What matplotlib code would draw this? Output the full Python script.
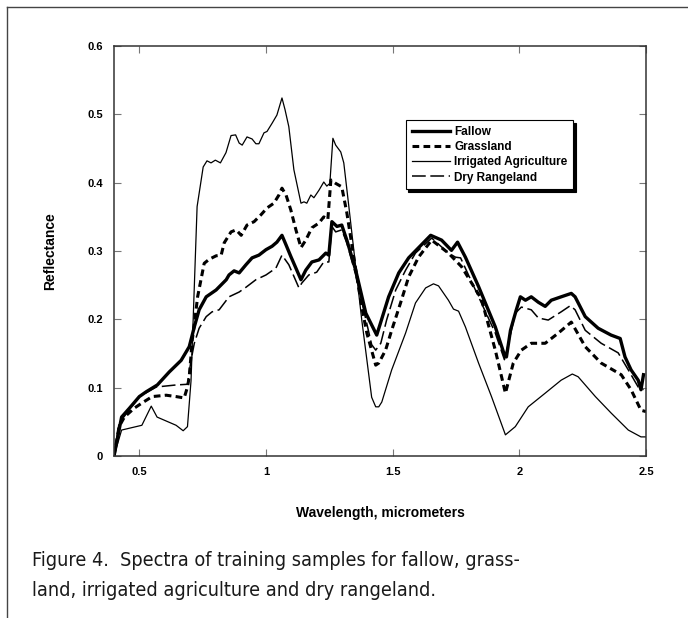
import matplotlib
matplotlib.use('Agg')
import matplotlib.pyplot as plt
from matplotlib.lines import Line2D

plt.rcParams['font.family'] = ['Liberation Sans', 'DejaVu Sans']

# Spectra (wavelength in micrometers, reflectance)
irr_x = [0.40, 0.43, 0.51, 0.547, 0.57, 0.645, 0.673, 0.69, 0.704, 0.728, 0.752, 0.767,
         0.783, 0.80, 0.82, 0.842, 0.862, 0.88, 0.894, 0.906, 0.925, 0.945, 0.96, 0.972,
         0.992, 1.004, 1.024, 1.043, 1.063, 1.075, 1.09, 1.11, 1.138, 1.15, 1.161, 1.177,
         1.189, 1.209, 1.228, 1.24, 1.252, 1.264, 1.275, 1.295, 1.307, 1.327, 1.354, 1.378,
         1.417, 1.433, 1.445, 1.457, 1.496, 1.551, 1.59, 1.63, 1.661, 1.681, 1.72, 1.74,
         1.76, 1.787, 1.839, 1.89, 1.945, 1.984, 2.035, 2.102, 2.165, 2.209, 2.232, 2.30,
         2.362, 2.43, 2.48, 2.50]
irr_y = [0.0, 0.038, 0.045, 0.073, 0.057, 0.045, 0.037, 0.043, 0.11, 0.365, 0.423, 0.432,
         0.429, 0.433, 0.429, 0.444, 0.469, 0.470, 0.458, 0.455, 0.467, 0.464, 0.457, 0.457,
         0.473, 0.475, 0.487, 0.499, 0.524, 0.507, 0.482, 0.419, 0.370, 0.372, 0.370, 0.382,
         0.378, 0.389, 0.401, 0.395, 0.399, 0.465, 0.455, 0.445, 0.429, 0.365, 0.277, 0.199,
         0.086, 0.072, 0.072, 0.079, 0.126, 0.180, 0.224, 0.246, 0.252, 0.249, 0.228, 0.215,
         0.212, 0.189, 0.136, 0.087, 0.031, 0.043, 0.072, 0.092, 0.111, 0.120, 0.116, 0.087,
         0.063, 0.038, 0.028, 0.028]

fal_x = [0.40, 0.43, 0.461, 0.50, 0.527, 0.571, 0.618, 0.665, 0.697, 0.717, 0.736, 0.764,
         0.803, 0.843, 0.854, 0.874, 0.894, 0.921, 0.945, 0.972, 1.0, 1.024, 1.043, 1.063,
         1.079, 1.098, 1.138, 1.157, 1.181, 1.209, 1.236, 1.248, 1.26, 1.28, 1.299, 1.319,
         1.354, 1.394, 1.437, 1.453, 1.484, 1.524, 1.563, 1.65, 1.693, 1.732, 1.756, 1.787,
         1.839, 1.905, 1.941, 1.949, 1.965, 1.988, 2.004, 2.024, 2.047, 2.075, 2.102, 2.126,
         2.165, 2.205, 2.22, 2.26, 2.311, 2.362, 2.398, 2.417, 2.441, 2.469, 2.48, 2.49]
fal_y = [0.0, 0.057, 0.070, 0.087, 0.094, 0.104, 0.123, 0.140, 0.160, 0.189, 0.214, 0.233,
         0.243, 0.258, 0.265, 0.271, 0.268, 0.280, 0.290, 0.294, 0.302, 0.307, 0.313, 0.323,
         0.309, 0.292, 0.258, 0.272, 0.284, 0.287, 0.297, 0.294, 0.343, 0.336, 0.338, 0.316,
         0.272, 0.209, 0.177, 0.196, 0.233, 0.268, 0.290, 0.323, 0.316, 0.301, 0.313, 0.291,
         0.248, 0.189, 0.148, 0.145, 0.184, 0.214, 0.233, 0.228, 0.233, 0.225, 0.219, 0.228,
         0.233, 0.238, 0.233, 0.204, 0.187, 0.177, 0.172, 0.145, 0.126, 0.111, 0.097, 0.119]

gra_x = [0.40, 0.42, 0.441, 0.48, 0.512, 0.551, 0.606, 0.645, 0.677, 0.69, 0.697, 0.709,
         0.724, 0.73, 0.756, 0.776, 0.803, 0.823, 0.835, 0.862, 0.882, 0.902, 0.925, 0.953,
         0.98, 1.004, 1.031, 1.051, 1.063, 1.079, 1.098, 1.118, 1.138, 1.157, 1.181, 1.209,
         1.228, 1.244, 1.256, 1.275, 1.299, 1.319, 1.346, 1.378, 1.398, 1.433, 1.445, 1.472,
         1.496, 1.531, 1.563, 1.602, 1.654, 1.72, 1.772, 1.85, 1.905, 1.945, 1.976, 2.008,
         2.047, 2.102, 2.154, 2.205, 2.26, 2.323, 2.402, 2.441, 2.48, 2.50]
gra_y = [0.0, 0.043, 0.057, 0.070, 0.078, 0.087, 0.089, 0.087, 0.085, 0.101, 0.116, 0.170,
         0.214, 0.233, 0.282, 0.288, 0.293, 0.294, 0.312, 0.328, 0.331, 0.323, 0.338, 0.343,
         0.353, 0.363, 0.370, 0.382, 0.392, 0.382, 0.360, 0.331, 0.305, 0.316, 0.334, 0.341,
         0.350, 0.346, 0.404, 0.399, 0.394, 0.356, 0.292, 0.218, 0.180, 0.133, 0.136, 0.155,
         0.184, 0.224, 0.262, 0.291, 0.316, 0.297, 0.277, 0.230, 0.155, 0.092, 0.136, 0.155,
         0.165, 0.165, 0.180, 0.196, 0.160, 0.136, 0.119, 0.097, 0.067, 0.065]

dry_x = [0.40, 0.42, 0.50, 0.567, 0.645, 0.69, 0.704, 0.717, 0.736, 0.764, 0.787, 0.815,
         0.854, 0.894, 0.921, 0.96, 1.0, 1.039, 1.063, 1.09, 1.13, 1.141, 1.169, 1.20,
         1.228, 1.248, 1.26, 1.275, 1.299, 1.319, 1.354, 1.394, 1.417, 1.433, 1.453, 1.476,
         1.512, 1.551, 1.59, 1.654, 1.72, 1.748, 1.768, 1.839, 1.905, 1.941, 1.957, 1.984,
         2.008, 2.047, 2.075, 2.114, 2.165, 2.201, 2.22, 2.26, 2.323, 2.39, 2.43, 2.469, 2.49]
dry_y = [0.0, 0.048, 0.087, 0.101, 0.104, 0.105, 0.140, 0.165, 0.187, 0.204, 0.211, 0.214,
         0.233, 0.240, 0.247, 0.258, 0.265, 0.275, 0.294, 0.280, 0.246, 0.253, 0.265, 0.269,
         0.284, 0.284, 0.336, 0.328, 0.331, 0.312, 0.265, 0.200, 0.163, 0.155, 0.165, 0.199,
         0.243, 0.272, 0.297, 0.319, 0.297, 0.291, 0.290, 0.233, 0.180, 0.141, 0.165, 0.209,
         0.218, 0.214, 0.202, 0.199, 0.211, 0.220, 0.214, 0.184, 0.165, 0.151, 0.126, 0.101, 0.097]

caption = ['Figure 4.  Spectra of training samples for fallow, grass-',
           'land, irrigated agriculture and dry rangeland.']

fig = plt.figure(figsize=(6.88, 6.18), dpi=100)
ax = fig.add_axes([0.1657, 0.2621, 0.7733, 0.6634])

ax.plot(fal_x, fal_y, color='black', lw=2.4, solid_joinstyle='round', label='Fallow')
ax.plot(gra_x, gra_y, color='black', lw=2.2, ls=(0, (2.2, 1.4)), label='Grassland')
ax.plot(irr_x, irr_y, color='black', lw=0.9, label='Irrigated Agriculture')
ax.plot(dry_x, dry_y, color='black', lw=1.1, ls=(0, (9, 3)), label='Dry Rangeland')

ax.set_xlim(0.4, 2.5)
ax.set_ylim(0, 0.6)
ax.set_xticks([0.5, 1, 1.5, 2, 2.5])
ax.set_xticklabels(['0.5', '1', '1.5', '2', '2.5'])
ax.set_yticks([0, 0.1, 0.2, 0.3, 0.4, 0.5, 0.6])
ax.set_yticklabels(['0', '0.1', '0.2', '0.3', '0.4', '0.5', '0.6'])
ax.tick_params(direction='in', top=True, right=True, length=5, width=0.8,
               color='#777777', labelsize=8, pad=8)
for lab in ax.get_xticklabels() + ax.get_yticklabels():
    lab.set_fontweight('bold')
for sp in ax.spines.values():
    sp.set_linewidth(1.1)
    sp.set_color('#333333')

ax.set_xlabel('Wavelength, micrometers', fontsize=10, fontweight='bold', labelpad=21)
ax.set_ylabel('Reflectance', fontsize=10, fontweight='bold', labelpad=22)

leg = ax.legend(loc='upper left', bbox_to_anchor=(0.537, 0.833), frameon=True,
                fancybox=False, edgecolor='black', fontsize=8.5, handlelength=3.3,
                handletextpad=0.3, borderpad=0.5, labelspacing=0.26,
                shadow={'color': 'black', 'alpha': 1.0, 'ox': 2, 'oy': -2})
leg.get_frame().set_linewidth(0.8)
for t in leg.get_texts():
    t.set_fontweight('bold')

# page rules and caption
fig.add_artist(Line2D([7 / 688, 1], [1 - 7 / 618, 1 - 7 / 618], color='#444444', lw=1))
fig.add_artist(Line2D([7 / 688, 7 / 688], [0, 1 - 7 / 618], color='#444444', lw=1))
for i, line in enumerate(caption):
    fig.text(32 / 688, 1 - (566 + 30 * i) / 618, line,
             fontsize=14.2, family=['DejaVu Sans'], fontstretch='condensed',
             va='baseline', ha='left', color='#1a1a1a')

fig.savefig('out.png', dpi=100)
